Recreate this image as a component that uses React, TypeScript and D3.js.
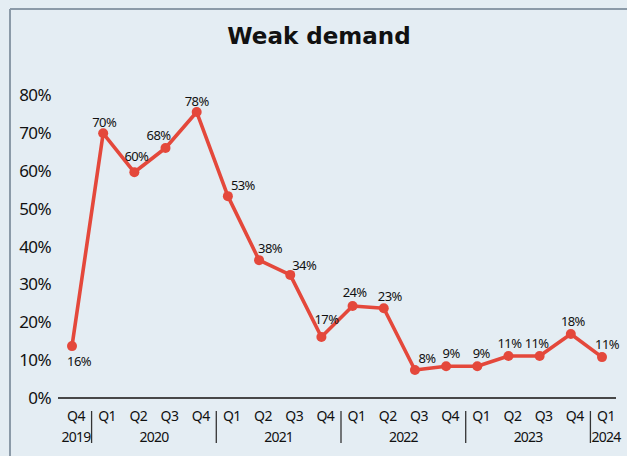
import React from "react";
import * as d3 from "d3";

const quarters = ["Q4", "Q1", "Q2", "Q3", "Q4", "Q1", "Q2", "Q3", "Q4", "Q1", "Q2", "Q3", "Q4", "Q1", "Q2", "Q3", "Q4", "Q1"];
const years = ["2019", "2020", "2020", "2020", "2020", "2021", "2021", "2021", "2021", "2022", "2022", "2022", "2022", "2023", "2023", "2023", "2023", "2024"];
const values = [13.7, 69.9, 59.6, 66.0, 75.5, 53.3, 36.4, 32.5, 16.1, 24.3, 23.7, 7.4, 8.4, 8.4, 11.1, 11.1, 16.9, 10.8];
const labels = ["16%", "70%", "60%", "68%", "78%", "53%", "38%", "34%", "17%", "24%", "23%", "8%", "9%", "9%", "11%", "11%", "18%", "11%"];
const yTicks = [0, 10, 20, 30, 40, 50, 60, 70, 80];
const title = "Weak demand";

// label placement relative to the point (dx, dy of label centre)
const labelOffsets: [number, number][] = [
  [7, 15], [1, -11], [2, -16], [-7, -13], [0, -11], [15, -11], [11, -12], [14, -10], [5, -18],
  [2, -14], [6, -12], [12, -12], [5, -13], [4, -13], [1, -13], [-3, -13], [2, -13], [5, -13],
];

const W = 627;
const H = 456;
const RED = "#e4483b";
const BG = "#e4edf3";
const FONT = "'Noto Sans', 'Open Sans', sans-serif";

export default function App() {
  const ids = quarters.map((_, i) => String(i));
  const x = d3.scalePoint<string>().domain(ids).range([72, 602]);
  const y = d3.scaleLinear().domain([0, 80]).range([398, 95]);
  const line = d3
    .line<number>()
    .x((_, i) => x(ids[i]) as number)
    .y((d) => y(d));

  // year groups
  const groups: { year: string; first: number; last: number }[] = [];
  years.forEach((yr, i) => {
    const g = groups[groups.length - 1];
    if (g && g.year === yr) g.last = i;
    else groups.push({ year: yr, first: i, last: i });
  });
  const step = x.step();

  return (
    <svg width={W} height={H} style={{ position: "absolute", left: 0, top: 0 }}>
      <rect x={0} y={0} width={W} height={H} fill={BG} />
      <line x1={10} y1={9} x2={W} y2={9} stroke="#8b9aa8" strokeWidth={2} />
      <line x1={10} y1={9} x2={10} y2={H} stroke="#8b9aa8" strokeWidth={2} />
      <text x={319} y={44} textAnchor="middle" fontFamily="'DejaVu Sans', sans-serif" fontWeight="bold" fontSize={23} fill="#111">
        {title}
      </text>
      {yTicks.map((t) => (
        <text key={t} x={51} y={y(t)} dy="0.36em" textAnchor="end" fontFamily={FONT} fontSize={17} letterSpacing={-0.6} fill="#111">
          {t}%
        </text>
      ))}
      <line x1={58} y1={y(0)} x2={616} y2={y(0)} stroke="#474747" strokeWidth={2} />
      {quarters.map((q, i) => (
        <text key={i} x={(x(ids[i]) as number) + 4} y={416} dy="0.36em" textAnchor="middle" fontFamily={FONT} fontSize={14} letterSpacing={-0.5} fill="#111">
          {q}
        </text>
      ))}
      {groups.map((g) => {
        const cx = ((x(ids[g.first]) as number) + (x(ids[g.last]) as number)) / 2 + 4;
        return (
          <text key={g.year} x={cx} y={437} dy="0.36em" textAnchor="middle" fontFamily={FONT} fontSize={14} letterSpacing={-0.8} fill="#111">
            {g.year}
          </text>
        );
      })}
      {groups.slice(1).map((g) => {
        const sx = (x(ids[g.first]) as number) - step / 2 + 4;
        return <line key={g.year} x1={sx} y1={411} x2={sx} y2={443} stroke="#333" strokeWidth={1.3} />;
      })}
      <path d={line(values) || ""} fill="none" stroke={RED} strokeWidth={3.6} strokeLinejoin="round" />
      {values.map((v, i) => (
        <circle key={i} cx={x(ids[i]) as number} cy={y(v)} r={5} fill={RED} />
      ))}
      {values.map((v, i) => (
        <text
          key={i}
          x={(x(ids[i]) as number) + labelOffsets[i][0]}
          y={y(v) + labelOffsets[i][1]}
          dy="0.36em"
          textAnchor="middle"
          fontFamily={FONT}
          fontSize={13}
          letterSpacing={-0.6}
          fill="#111"
        >
          {labels[i]}
        </text>
      ))}
    </svg>
  );
}
